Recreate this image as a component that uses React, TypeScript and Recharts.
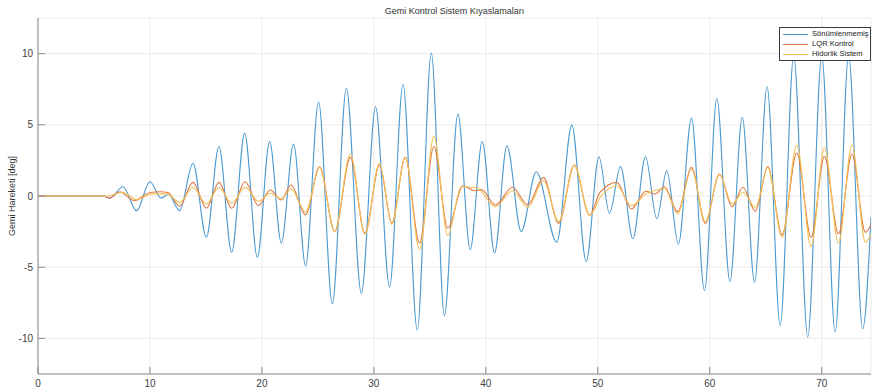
import { LineChart, Line, XAxis, YAxis, CartesianGrid, Legend } from "recharts";

// time [s] and roll angle [deg], one pair of arrays per system
const undampedTime = [
  0, 5.8, 6.4, 7.6, 8.8, 10.0, 11.0, 11.65, 12.65, 13.84, 15.04, 16.16, 17.3, 18.46, 19.59,
  20.69, 21.73, 22.83, 23.9, 25.06, 26.29, 27.54, 28.88, 30.15, 31.4, 32.6, 33.87, 35.13, 36.3,
  37.5, 38.6, 39.68, 40.78, 41.88, 43.16, 44.5, 46.34, 47.68, 48.96, 50.1, 51.04, 52.03, 53.13,
  54.26, 55.27, 56.16, 57.2, 58.37, 59.53, 60.63, 61.8, 62.9, 64.0, 65.12, 66.29, 67.5, 68.75,
  70.0, 71.2, 72.4, 73.66, 74.4,
];
const undampedDeg = [
  0, 0, -0.15, 0.65, -1.03, 1.0, -0.15, 0.12, -1.03, 2.29, -2.9, 3.48, -3.95, 4.4, -4.3,
  3.83, -3.3, 3.65, -4.9, 6.6, -7.57, 7.57, -6.83, 6.26, -6.4, 7.85, -9.4, 10.03, -8.4,
  5.75, -3.76, 3.83, -4.0, 3.53, -2.5, 1.7, -3.25, 4.98, -4.6, 2.76, -1.22, 2.06, -3.0,
  2.76, -1.6, 1.78, -3.37, 5.47, -6.64, 6.85, -6.0, 5.52, -6.05, 7.67, -9.1, 9.84, -9.9,
  9.84, -9.56, 9.84, -9.33, -1.5,
];

const lqrTime = [
  0, 5.8, 6.4, 7.3, 8.6, 10.0, 10.9, 11.6, 12.65, 13.84, 15.04, 16.16, 17.3, 18.5, 19.7,
  20.75, 21.73, 22.6, 23.9, 25.15, 26.5, 27.9, 29.2, 30.5, 31.6, 32.8, 34.08, 35.36, 36.6,
  37.95, 39.0, 39.6, 40.87, 42.36, 43.75, 45.15, 46.5, 47.9, 49.26, 50.2, 51.7, 53.0, 54.3,
  55.1, 55.95, 57.14, 58.37, 59.6, 60.86, 62.0, 62.95, 64.08, 65.18, 66.46, 67.77, 69.05,
  70.24, 71.5, 72.7, 73.9, 74.4,
];
const lqrDeg = [
  0, 0, -0.15, 0.3, -0.33, 0.25, 0.3, 0.25, -0.72, 0.96, -0.86, 0.96, -0.86, 1.0, -0.68,
  0.42, -0.28, 0.77, -1.33, 2.05, -2.5, 2.71, -2.6, 2.17, -1.9, 2.71, -3.3, 3.48, -2.27,
  0.72, 0.37, 0.45, -0.63, 0.61, -0.61, 1.31, -1.92, 2.17, -1.33, 0.26, 0.96, -0.91, 0.33,
  0.14, 0.65, -1.1, 2.01, -1.92, 1.54, -0.75, 0.61, -1.07, 2.06, -2.73, 3.02, -2.9,
  2.78, -2.66, 2.95, -2.55, -2.0,
];

const hydraulicTime = [
  0, 6.0, 7.6, 8.8, 10.2, 11.5, 12.65, 13.84, 15.04, 16.16, 17.3, 18.5, 19.7, 20.75, 21.73,
  22.6, 23.9, 25.15, 26.5, 27.9, 29.2, 30.5, 31.6, 32.8, 34.08, 35.36, 36.6, 37.8, 39.2,
  40.87, 42.36, 43.75, 45.15, 46.5, 47.9, 49.26, 50.3, 51.7, 53.0, 54.3, 56.0, 57.14, 58.37,
  59.6, 60.86, 62.0, 62.95, 64.08, 65.18, 66.46, 67.77, 69.05, 70.24, 71.5, 72.7, 73.9, 74.4,
];
const hydraulicDeg = [
  0, 0, 0.25, -0.25, 0.15, 0.15, -0.45, 0.6, -0.56, 0.6, -0.5, 0.61, -0.37, 0.19, -0.2,
  0.49, -1.14, 2.0, -2.5, 2.95, -2.7, 2.3, -2.0, 2.75, -3.76, 4.19, -2.78, 0.65, 0.56,
  -0.75, 0.37, -0.8, 1.07, -1.8, 2.17, -1.36, 0.0, 0.72, -0.68, 0.14, 0.49, -1.26, 1.9,
  -1.8, 1.5, -0.56, 0.26, -0.8, 2.0, -2.9, 3.58, -3.55, 3.41, -3.3, 3.58, -3.25, -2.7,
];

const seriesNames = ["Sönümlenmemiş", "LQR Kontrol", "Hidorlik Sistem"];
const xTicks = [0, 10, 20, 30, 40, 50, 60, 70];
const yTicks = [-10, -5, 0, 5, 10];

const FONT = "'Liberation Sans', Arial, sans-serif";
const AXIS = "#8a8a8a";

const toPoints = (time: number[], deg: number[]) =>
  time.map((t, i) => ({ t, deg: deg[i] }));

// MATLAB-style legend box, kept in plot order
const LegendBox = ({ payload }: any) => {
  const items = [...(payload ?? [])].sort(
    (a: any, b: any) => seriesNames.indexOf(a.value) - seriesNames.indexOf(b.value)
  );
  return (
    <div
      style={{
        boxSizing: "border-box",
        width: 92,
        border: "1px solid #3a3a3a",
        background: "#fff",
        padding: "1px 0 1px 3px",
        fontFamily: FONT,
        fontSize: 7.6,
        lineHeight: "10px",
        color: "#222",
        whiteSpace: "nowrap",
        textAlign: "left",
        overflow: "visible",
      }}
    >
      {items.map((item: any) => (
        <div
          key={item.value}
          style={{ display: "flex", alignItems: "center", justifyContent: "flex-start" }}
        >
          <span
            style={{
              display: "inline-block",
              width: 25,
              flexShrink: 0,
              borderTop: `1px solid ${item.color}`,
              marginRight: 4,
            }}
          />
          <span style={{ flexShrink: 0 }}>{item.value}</span>
        </div>
      ))}
    </div>
  );
};

const App = () => {
  const tick = { fontSize: 10, fill: "#404040", fontFamily: FONT };
  return (
    <div style={{ position: "absolute", left: 0, top: 0, width: 872, height: 389, background: "#fff" }}>
      <div
        style={{
          position: "absolute",
          left: 38,
          width: 833,
          top: 6,
          textAlign: "center",
          fontFamily: FONT,
          fontSize: 9,
          color: "#333",
        }}
      >
        Gemi Kontrol Sistem Kıyaslamaları
      </div>
      <LineChart width={872} height={389} margin={{ top: 18, right: 1, left: 0, bottom: 0 }}>
        <CartesianGrid stroke="#ebebeb" strokeWidth={1} />
        <XAxis
          dataKey="t"
          type="number"
          domain={[0, 74.4]}
          ticks={xTicks}
          allowDataOverflow
          height={15}
          stroke={AXIS}
          tickSize={-7}
          tickMargin={13}
          tick={tick}
        />
        <XAxis
          xAxisId="top"
          orientation="top"
          dataKey="t"
          type="number"
          domain={[0, 74.4]}
          ticks={xTicks}
          height={0}
          stroke={AXIS}
          tickSize={-7}
          tickFormatter={() => ""}
        />
        <YAxis
          type="number"
          domain={[-12.5, 12.5]}
          ticks={yTicks}
          allowDataOverflow
          width={38}
          stroke={AXIS}
          tickSize={-7}
          tickMargin={12}
          tick={tick}
          label={{
            value: "Gemi Hareketi [deg]",
            angle: -90,
            position: "insideLeft",
            offset: 12,
            style: { textAnchor: "middle", fontSize: 9, fill: "#333", fontFamily: FONT },
          }}
        />
        <YAxis
          yAxisId="right"
          orientation="right"
          type="number"
          domain={[-12.5, 12.5]}
          ticks={yTicks}
          width={0}
          stroke={AXIS}
          tickSize={-7}
          tickFormatter={() => ""}
        />
        <Legend
          layout="vertical"
          align="center"
          verticalAlign="middle"
          content={<LegendBox />}
          wrapperStyle={{ left: 779, top: 27, width: 92 }}
        />
        <Line
          data={toPoints(undampedTime, undampedDeg)}
          dataKey="deg"
          name={seriesNames[0]}
          type="monotone"
          stroke="#4a9ad0"
          strokeWidth={1.1}
          dot={false}
          isAnimationActive={false}
        />
        <Line
          data={toPoints(lqrTime, lqrDeg)}
          dataKey="deg"
          name={seriesNames[1]}
          type="monotone"
          stroke="#de7846"
          strokeWidth={1.1}
          dot={false}
          isAnimationActive={false}
        />
        <Line
          data={toPoints(hydraulicTime, hydraulicDeg)}
          dataKey="deg"
          name={seriesNames[2]}
          type="monotone"
          stroke="#f2bf55"
          strokeWidth={1.1}
          dot={false}
          isAnimationActive={false}
        />
      </LineChart>
    </div>
  );
};

export default App;
